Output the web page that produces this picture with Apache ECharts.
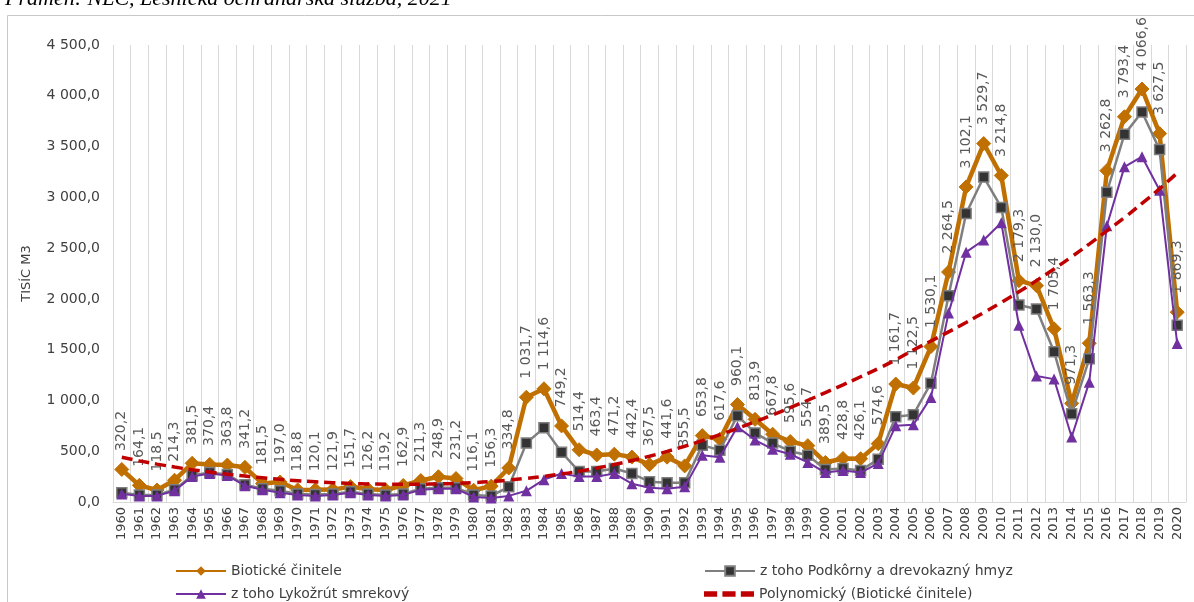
<!DOCTYPE html>
<html>
<head>
<meta charset="utf-8">
<script src="https://cdn.jsdelivr.net/npm/echarts@6/dist/echarts.min.js"></script>
<style>
  html, body { margin: 0; padding: 0; background: #fff; }
  #main { width: 1194px; height: 602px; }
</style>
</head>
<body>
<div id="main"></div>
<script>
var years = [];
for (var y = 1960; y <= 2020; y++) years.push(String(y));

// Biotické činitele (tis. m3)
var bioticke = [320.2,164.1,118.5,214.3,381.5,370.4,363.8,341.2,181.5,197.0,
  118.8,120.1,121.9,151.7,126.2,119.2,162.9,211.3,248.9,231.2,
  116.1,156.3,334.8,1031.7,1114.6,749.2,514.4,463.4,471.2,442.4,
  367.5,441.6,355.5,653.8,617.6,960.1,813.9,667.8,595.6,554.7,
  389.5,428.8,426.1,574.6,1161.7,1122.5,1530.1,2264.5,3102.1,3529.7,
  3214.8,2179.3,2130.0,1705.4,971.3,1563.3,3262.8,3793.4,4066.6,3627.5,1869.3];

// z toho Podkôrny a drevokazný hmyz
var podkorny = [90,70,70,120,260,290,270,170,130,110,
  80,75,80,100,80,70,80,130,140,140,
  70,60,150,580,730,490,300,300,330,280,
  200,190,190,560,510,850,680,580,500,460,
  320,330,310,420,840,860,1170,2030,2840,3200,
  2900,1940,1900,1480,870,1410,3050,3620,3840,3470,1740];

// z toho Lykožrút smrekový
var lykozrut = [80,60,60,110,250,280,260,160,120,90,
  70,60,70,90,70,60,70,120,130,130,
  50,40,60,110,220,280,250,250,280,180,
  140,130,150,460,440,740,610,520,470,390,
  290,310,290,380,750,760,1030,1860,2460,2580,
  2750,1740,1240,1210,640,1180,2720,3300,3400,3070,1560];

// Polynomický (Biotické činitele) - odčítané z grafu
var trend = [440,405,373,344,318,295,274,255,238,223,
  210,199,190,183,178,175,174,175,178,183,
  191,202,216,233,253,276,303,334,369,408,
  451,498,549,604,663,725,790,858,929,1002,
  1077,1154,1233,1314,1400,1497,1585,1675,1768,1865,
  1965,2070,2180,2295,2415,2540,2670,2800,2940,3085,3240];

var yTicks = [0,500,1000,1500,2000,2500,3000,3500,4000,4500];

function fmt(v, dec) {
  var s = v.toFixed(dec);
  var parts = s.split('.');
  var ip = parts[0].replace(/\B(?=(\d{3})+(?!\d))/g, ' ');
  return parts.length > 1 ? ip + ',' + parts[1] : ip;
}

var names = ['Biotické činitele', 'z toho Podkôrny a drevokazný hmyz', 'z toho Lykožrút smrekový', 'Polynomický (Biotické činitele)'];
var font = 'DejaVu Sans';
var dashIcon = 'path://M0,0h10v4h-10z M14,0h10v4h-10z M28,0h10v4h-10z';

function oneLegend(item, left, top) {
  return {
    data: [item], left: left, top: top, itemWidth: 50, itemHeight: 12,
    textStyle: { fontFamily: font, fontSize: 14, color: '#404040' }
  };
}

var myChart = echarts.init(document.getElementById('main'));
var option = {
  animation: false,
  backgroundColor: '#fff',
  graphic: [
    { type: 'rect', z: 100, silent: true,
      shape: { x: 7.5, y: 15.5, width: 1200, height: 600 },
      style: { fill: 'none', stroke: '#c8c8c8', lineWidth: 1 } },
    { type: 'text', left: 5, top: -12, z: 100,
      style: { text: 'Prameň: NLC, Lesnícka ochranárska služba, 2021', font: 'italic 22px "Liberation Serif"', fill: '#000' } }
  ],
  legend: [
    oneLegend(names[0], 170, 559),
    oneLegend(names[1], 699, 559),
    oneLegend(names[2], 170, 582),
    oneLegend({ name: names[3], icon: dashIcon, itemStyle: { color: '#c00000' } }, 699, 582)
  ],
  grid: { left: 113, right: 8, top: 45, bottom: 100 },
  xAxis: {
    type: 'category',
    data: years,
    boundaryGap: true,
    axisLine: { show: true, lineStyle: { color: '#d9d9d9' } },
    axisTick: { show: false },
    splitLine: { show: true, interval: 0, lineStyle: { color: '#d9d9d9', width: 1 } },
    axisLabel: { interval: 0, rotate: 90, fontFamily: font, fontSize: 13, color: '#404040', margin: 5 }
  },
  yAxis: {
    type: 'value',
    min: yTicks[0], max: yTicks[yTicks.length - 1], interval: 500,
    name: 'TISÍC M3', nameLocation: 'middle', nameGap: 80, nameRotate: 90,
    nameTextStyle: { fontFamily: font, fontSize: 13, color: '#404040' },
    axisLine: { show: false },
    axisTick: { show: false },
    splitLine: { show: false },
    axisLabel: { fontFamily: font, fontSize: 14, color: '#404040', margin: 13,
      formatter: function (v) { return fmt(v, 1); } }
  },
  series: [
    {
      name: names[0], type: 'line', data: bioticke,
      symbol: 'diamond', symbolSize: 14,
      lineStyle: { color: '#c07000', width: 4.5 },
      itemStyle: { color: '#c07000', borderColor: '#c07000' },
      label: {
        show: true, position: 'top', distance: 11, rotate: 90,
        align: 'left', verticalAlign: 'middle',
        fontFamily: font, fontSize: 14, color: '#595959',
        formatter: function (p) { return fmt(p.value, 1); }
      },
      z: 2
    },
    {
      name: names[1], type: 'line', data: podkorny,
      symbol: 'rect', symbolSize: 10,
      lineStyle: { color: '#7f7f7f', width: 2.5 },
      itemStyle: { color: '#333333', borderColor: '#7f7f7f', borderWidth: 1.5 },
      z: 3
    },
    {
      name: names[2], type: 'line', data: lykozrut,
      symbol: 'triangle', symbolSize: 11,
      lineStyle: { color: '#7030a0', width: 2 },
      itemStyle: { color: '#7030a0' },
      z: 4
    },
    {
      name: names[3], type: 'line', data: trend,
      symbol: 'none', smooth: true,
      lineStyle: { color: '#c00000', width: 3.5, type: [11, 6] },
      itemStyle: { color: '#c00000' },
      z: 5
    }
  ]
};
myChart.setOption(option);
</script>
</body>
</html>
